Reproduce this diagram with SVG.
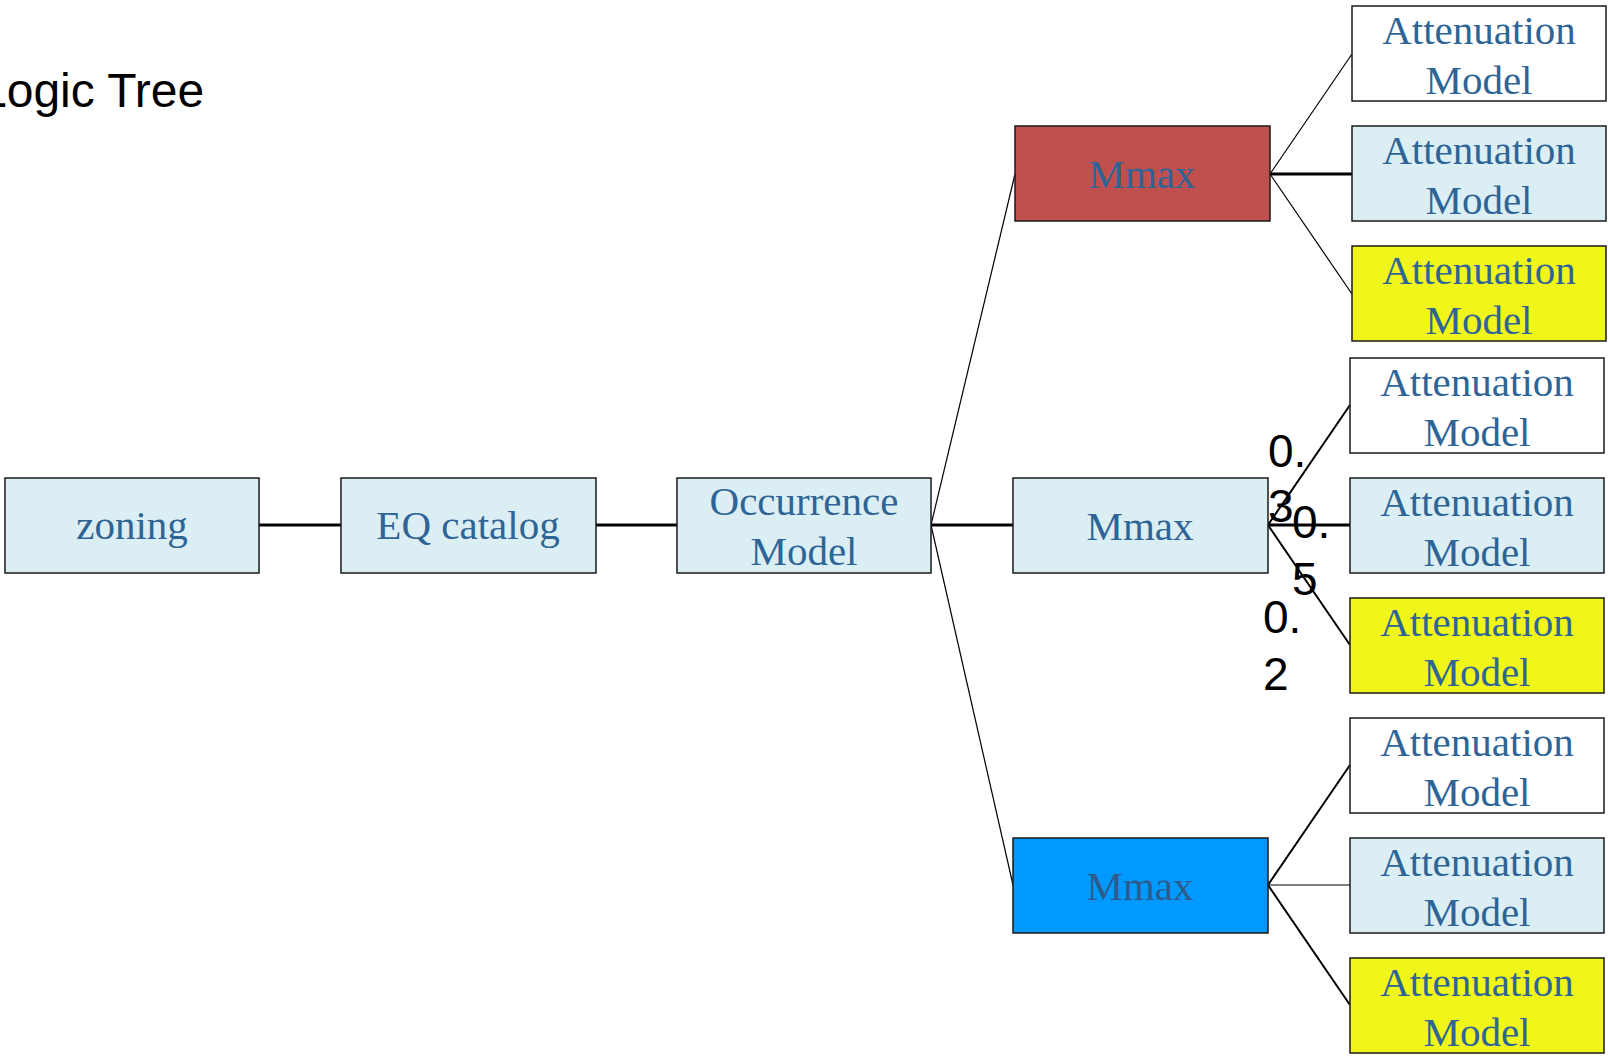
<svg xmlns="http://www.w3.org/2000/svg" width="1608" height="1056" viewBox="0 0 1608 1056">
  <style>
    .box { stroke: #1a1a1a; stroke-width: 1.5; }
    .pale { fill: #DAEEF3; }
    .white { fill: #FFFFFF; }
    .yellow { fill: #F0F51A; }
    .red { fill: #C0504D; }
    .blue { fill: #0099FF; }
    .lbl { font-family: "Liberation Serif", "Times New Roman", serif; font-size: 41px; fill: #2E6496; text-anchor: middle; }
    .w { font-family: "Liberation Sans", Arial, sans-serif; font-size: 46px; fill: #000000; }
    .c { stroke: #000000; fill: none; }
    .thin { stroke-width: 1.2; }
    .mid { stroke-width: 2; }
    .thick { stroke-width: 3; }
  </style>

  <text x="-20" y="107" style="font-family: 'Liberation Sans', Arial, sans-serif; font-size: 48px; fill: #000;">Logic Tree</text>

  <!-- connectors -->
  <g id="connectors">
    <line class="c thick" x1="259" y1="525" x2="341" y2="525"/>
    <line class="c thick" x1="596" y1="525" x2="677" y2="525"/>
    <line class="c thick" x1="931" y1="525" x2="1013" y2="525"/>
    <line class="c thin" x1="931" y1="525" x2="1015" y2="174"/>
    <line class="c thin" x1="931" y1="525" x2="1013" y2="885"/>

    <line class="c thin" x1="1270" y1="174" x2="1352" y2="54"/>
    <line class="c thick" x1="1270" y1="174" x2="1352" y2="174"/>
    <line class="c thin" x1="1270" y1="174" x2="1352" y2="294"/>

    <line class="c mid" x1="1268" y1="525" x2="1350" y2="405"/>
    <line class="c thick" x1="1268" y1="525" x2="1350" y2="525"/>
    <line class="c mid" x1="1268" y1="525" x2="1350" y2="645"/>

    <line class="c mid" x1="1268" y1="885" x2="1350" y2="765"/>
    <line class="c thin" x1="1268" y1="885" x2="1350" y2="885"/>
    <line class="c mid" x1="1268" y1="885" x2="1350" y2="1005"/>
  </g>

  <!-- main chain -->
  <g id="zoning">
    <rect class="box pale" x="5" y="478" width="254" height="95"/>
    <text class="lbl" x="132" y="539">zoning</text>
  </g>
  <g id="eq-catalog">
    <rect class="box pale" x="341" y="478" width="255" height="95"/>
    <text class="lbl" x="468" y="539">EQ catalog</text>
  </g>
  <g id="occurrence-model">
    <rect class="box pale" x="677" y="478" width="254" height="95"/>
    <text class="lbl" x="804" y="515">Occurrence</text>
    <text class="lbl" x="804" y="565">Model</text>
  </g>

  <!-- Mmax branches -->
  <g id="mmax-upper">
    <rect class="box red" x="1015" y="126" width="255" height="95"/>
    <text class="lbl" x="1142" y="188">Mmax</text>
  </g>
  <g id="mmax-middle">
    <rect class="box pale" x="1013" y="478" width="255" height="95"/>
    <text class="lbl" x="1140" y="540">Mmax</text>
  </g>
  <g id="mmax-lower">
    <rect class="box blue" x="1013" y="838" width="255" height="95"/>
    <text class="lbl" x="1140" y="900" style="fill:#2F5B8C">Mmax</text>
  </g>

  <!-- attenuation models, upper -->
  <g id="att-u1">
    <rect class="box white" x="1352" y="6" width="254" height="95"/>
    <text class="lbl" x="1479" y="44">Attenuation</text>
    <text class="lbl" x="1479" y="94">Model</text>
  </g>
  <g id="att-u2">
    <rect class="box pale" x="1352" y="126" width="254" height="95"/>
    <text class="lbl" x="1479" y="164">Attenuation</text>
    <text class="lbl" x="1479" y="214">Model</text>
  </g>
  <g id="att-u3">
    <rect class="box yellow" x="1352" y="246" width="254" height="95"/>
    <text class="lbl" x="1479" y="284">Attenuation</text>
    <text class="lbl" x="1479" y="334">Model</text>
  </g>

  <!-- attenuation models, middle -->
  <g id="att-m1">
    <rect class="box white" x="1350" y="358" width="254" height="95"/>
    <text class="lbl" x="1477" y="396">Attenuation</text>
    <text class="lbl" x="1477" y="446">Model</text>
  </g>
  <g id="att-m2">
    <rect class="box pale" x="1350" y="478" width="254" height="95"/>
    <text class="lbl" x="1477" y="516">Attenuation</text>
    <text class="lbl" x="1477" y="566">Model</text>
  </g>
  <g id="att-m3">
    <rect class="box yellow" x="1350" y="598" width="254" height="95"/>
    <text class="lbl" x="1477" y="636">Attenuation</text>
    <text class="lbl" x="1477" y="686">Model</text>
  </g>

  <!-- attenuation models, lower -->
  <g id="att-l1">
    <rect class="box white" x="1350" y="718" width="254" height="95"/>
    <text class="lbl" x="1477" y="756">Attenuation</text>
    <text class="lbl" x="1477" y="806">Model</text>
  </g>
  <g id="att-l2">
    <rect class="box pale" x="1350" y="838" width="254" height="95"/>
    <text class="lbl" x="1477" y="876">Attenuation</text>
    <text class="lbl" x="1477" y="926">Model</text>
  </g>
  <g id="att-l3">
    <rect class="box yellow" x="1350" y="958" width="254" height="95"/>
    <text class="lbl" x="1477" y="996">Attenuation</text>
    <text class="lbl" x="1477" y="1046">Model</text>
  </g>

  <!-- branch weights -->
  <g id="weights">
    <text class="w" x="1268" y="467">0.</text>
    <text class="w" x="1268" y="522">3</text>
    <text class="w" x="1292" y="538">0.</text>
    <text class="w" x="1292" y="595">5</text>
    <text class="w" x="1263" y="633">0.</text>
    <text class="w" x="1263" y="690">2</text>
  </g>
</svg>
